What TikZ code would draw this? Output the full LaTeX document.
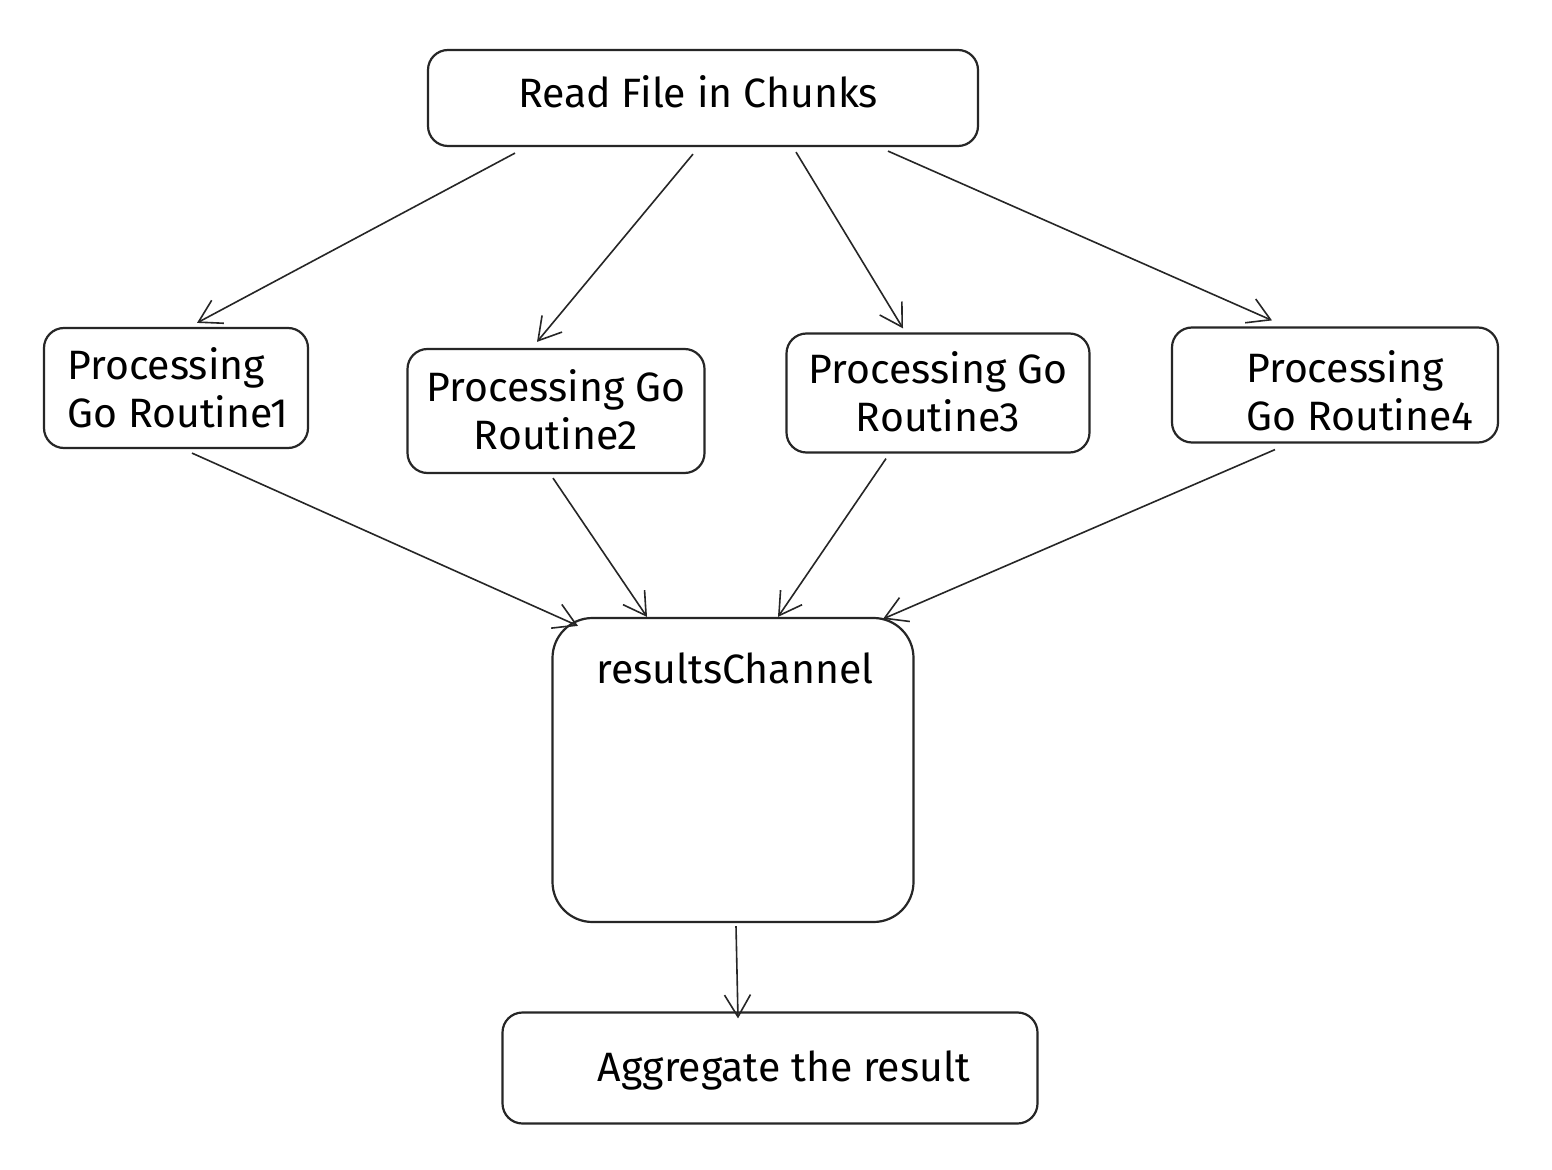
\documentclass[tikz,border=0pt]{standalone}
\usepackage{fontspec}
\setmainfont{Fira Sans}
\usetikzlibrary{arrows.meta}
\begin{document}
\begin{tikzpicture}[x=0.5pt,y=-0.5pt,
  box/.style={draw=black!85,line width=1.1pt,rounded corners=10pt,inner sep=0pt},
  txt/.style={align=center,font=\fontsize{20.5}{24}\selectfont},
  conn/.style={draw=black!85,line width=0.8pt,-{Straight Barb[length=11pt,width=13pt,line width=0.8pt]}}]
\useasboundingbox[fill=white] (0,0) rectangle (1552,1170);
\node[box,minimum width=275pt,minimum height=48pt] (read) at (703,98) {};
\node[txt] (readl) at (698,92) {Read File in Chunks};
\node[box,minimum width=132pt,minimum height=60pt] (p1) at (176,388) {};
\node[txt,align=left] (p1l) at (178,388) {Processing\\Go Routine1};
\node[box,minimum width=148.5pt,minimum height=62pt] (p2) at (556,411) {};
\node[txt] (p2l) at (556,410) {Processing Go\\Routine2};
\node[box,minimum width=151.5pt,minimum height=59.5pt] (p3) at (938,393) {};
\node[txt] (p3l) at (938,392) {Processing Go\\Routine3};
\node[box,minimum width=163pt,minimum height=57.5pt] (p4) at (1335,385) {};
\node[txt,align=left] (p4l) at (1360,391) {Processing\\Go Routine4};
\node[box,minimum width=180.5pt,minimum height=152pt,rounded corners=20pt] (ch) at (733,770) {};
\node[txt] (chl) at (735,668) {resultsChannel};
\node[box,minimum width=267.5pt,minimum height=55.5pt] (agg) at (770,1068) {};
\node[txt] (aggl) at (784,1070) {Aggregate the result};
\draw[conn] ([shift={(-188,6)}]read.south) -- ([shift={(21,-4)}]p1.north);
\draw[conn] ([shift={(-10,7)}]read.south) -- ([shift={(-19,-6)}]p2.north);
\draw[conn] ([shift={(93,5)}]read.south) -- ([shift={(-35,-4)}]p3.north);
\draw[conn] ([shift={(185,4)}]read.south) -- ([shift={(-63,-6)}]p4.north);
\draw[conn] ([shift={(16,4)}]p1.south) -- ([shift={(-155,9)}]ch.north);
\draw[conn] ([shift={(-3,4)}]p2.south) -- ([shift={(-86,0)}]ch.north);
\draw[conn] ([shift={(-52,5)}]p3.south) -- ([shift={(45,0)}]ch.north);
\draw[conn] ([shift={(-60,6)}]p4.south) -- ([shift={(150,2)}]ch.north);
\draw[conn] ([shift={(3,3)}]ch.south) -- ([shift={(-32,7)}]agg.north);
\end{tikzpicture}
\end{document}
